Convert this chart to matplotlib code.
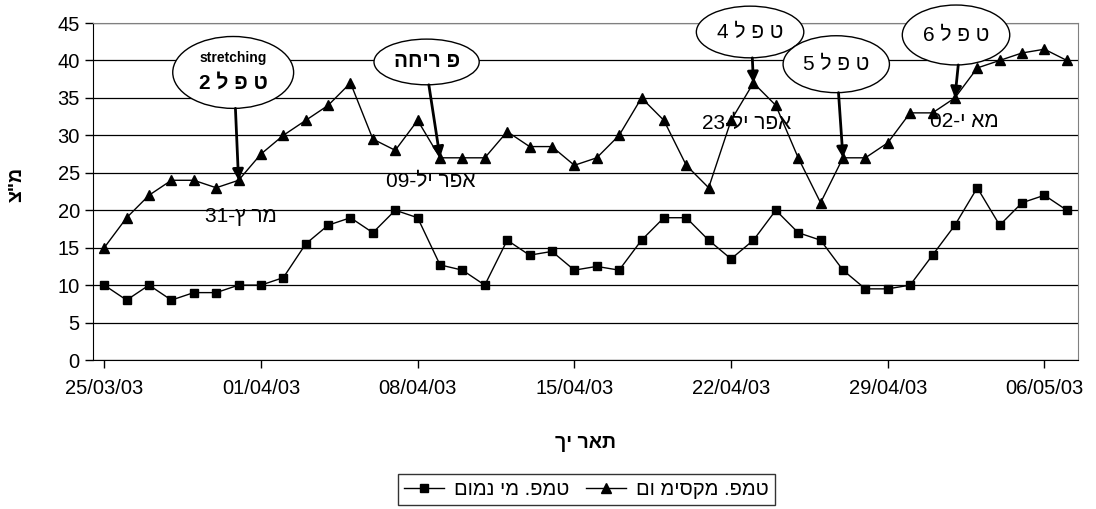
import matplotlib
matplotlib.use('Agg')
import matplotlib.pyplot as plt
import matplotlib.dates as mdates
from matplotlib.patches import Ellipse
import numpy as np
import pandas as pd

plt.rcParams['font.family'] = ['Liberation Sans', 'DejaVu Sans']

# daily temperatures, 25/03/03 .. 07/05/03
start_date = '2003-03-25'
t_max = [15, 19, 22, 24, 24, 23, 24, 27.5, 30, 32, 34, 37, 29.5, 28, 32, 27, 27, 27,
         30.5, 28.5, 28.5, 26, 27, 30, 35, 32, 26, 23, 32, 37, 34, 27, 21, 27, 27, 29,
         33, 33, 35, 39, 40, 41, 41.5, 40]
t_min = [10, 8, 10, 8, 9, 9, 10, 10, 11, 15.5, 18, 19, 17, 20, 19, 12.7, 12, 10,
         16, 14, 14.5, 12, 12.5, 12, 16, 19, 19, 16, 13.5, 16, 20, 17, 16, 12, 9.5, 9.5,
         10, 14, 18, 23, 18, 21, 22, 20]

# Hebrew strings are stored in visual (left-to-right) order
label_max = 'םו מיסקמ .פמט'
label_min = 'םומנ ימ .פמט'
xlabel = 'ךי ראת'
ylabel = 'צ"מ'

# callouts: (text, bold, day index of pointed sample, ellipse centre day, centre value, width days, height)
callouts = [
    ('2 ל פ ט', True, 6, 5.76, 38.4, 5.4, 9.6),
    ('החיר פ', True, 15, 14.4, 39.8, 4.7, 6.1),
    ('4 ל פ ט', False, 29, 28.85, 43.8, 4.8, 6.9),
    ('5 ל פ ט', False, 33, 32.7, 39.5, 4.75, 7.6),
    ('6 ל פ ט', False, 38, 38.05, 43.4, 4.8, 8.0),
]
# free date labels: (text, day, value)
date_notes = [
    ('31-ץ רמ', 6.1, 19.2),
    ('09-לי רפא', 14.6, 23.8),
    ('23-לי רפא', 28.7, 31.6),
    ('02-י אמ', 38.4, 31.8),
]

dates = pd.date_range(start_date, periods=len(t_max))
x = mdates.date2num(dates)

fig = plt.figure(figsize=(10.96, 5.09), dpi=100)
ax = fig.add_axes([0.0849, 0.2927, 0.8987, 0.6621])

ax.plot(x, t_min, '-s', color='black', linewidth=1, markersize=6, label=label_min, zorder=3)
ax.plot(x, t_max, '-^', color='black', linewidth=1, markersize=6.5, label=label_max, zorder=3)

ax.set_ylim(0, 45)
ax.set_yticks(np.arange(0, 46, 5))
ax.set_xlim(x[0] - 0.5, x[-1] + 0.5)
ax.set_xticks(x[::7])
ax.xaxis.set_major_formatter(mdates.DateFormatter('%d/%m/%y'))
ax.tick_params(axis='both', labelsize=14.5, direction='out', length=6, width=1, colors='black')
ax.tick_params(axis='x', pad=8)
ax.grid(axis='y', color='black', linewidth=0.9)
ax.set_axisbelow(True)

ax.spines['left'].set_color('black')
ax.spines['bottom'].set_color('black')
ax.spines['top'].set_color('#808080')
ax.spines['right'].set_color('#808080')

ax.set_xlabel(xlabel, fontsize=14, fontweight='bold', labelpad=26)
ax.set_ylabel(ylabel, fontsize=14, fontweight='bold', labelpad=14)
ax.yaxis.set_label_coords(-0.068, 0.52)

for i, (txt, bold, idx, cx, cy, w, h) in enumerate(callouts):
    e = Ellipse((x[0] + cx, cy), w, h, facecolor='white', edgecolor='black',
                linewidth=1, clip_on=False, zorder=5 + i)
    ax.add_patch(e)
    ax.annotate('', xy=(x[idx], t_max[idx]), xytext=(x[0] + cx + 0.1, cy - h / 2),
                arrowprops=dict(arrowstyle='-|>', color='black', lw=2, mutation_scale=16,
                                shrinkA=0, shrinkB=0),
                zorder=5 + i, annotation_clip=False)
    if i == 0:
        ax.text(x[0] + cx, cy + 1.9, 'stretching', ha='center', va='center',
                fontsize=10, fontweight='bold', zorder=6 + i)
        ax.text(x[0] + cx, cy - 1.4, txt, ha='center', va='center',
                fontsize=15, fontweight='bold', zorder=6 + i)
    else:
        ax.text(x[0] + cx, cy, txt, ha='center', va='center', fontsize=15,
                fontweight='bold' if bold else 'normal', zorder=6 + i, clip_on=False)

for txt, d, v in date_notes:
    ax.text(x[0] + d, v, txt, ha='center', va='center', fontsize=15, zorder=4)

leg = fig.legend(loc='lower center', bbox_to_anchor=(0.535, -0.012), ncol=2, fontsize=14.5,
                 frameon=True, fancybox=False, edgecolor='black', handlelength=2,
                 borderpad=0.3, columnspacing=0.8, handletextpad=0.5)
leg.get_frame().set_linewidth(1)

fig.savefig('out.png', dpi=100)
